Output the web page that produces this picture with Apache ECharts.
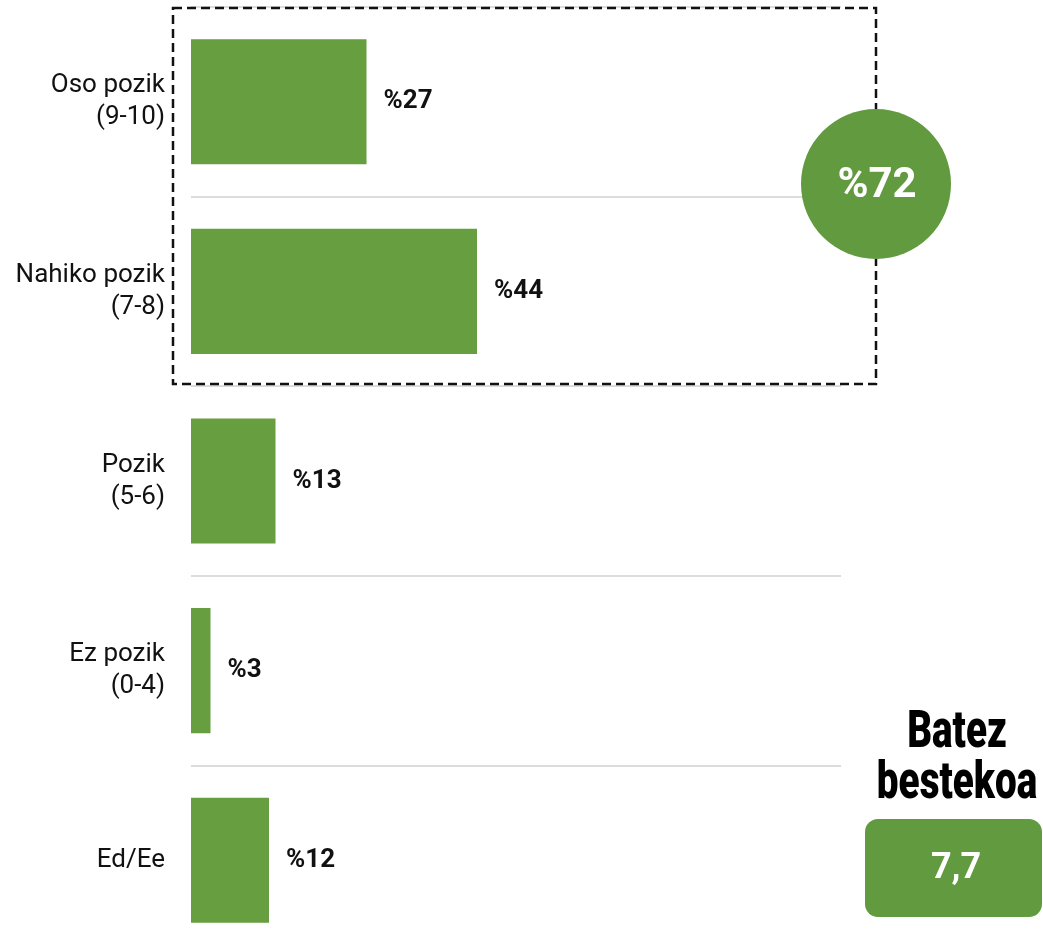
<!DOCTYPE html>
<html>
<head>
<meta charset="utf-8">
<script src="https://cdn.jsdelivr.net/npm/echarts@6/dist/echarts.min.js"></script>
<style>
  html, body { margin: 0; padding: 0; background: #fff; }
  #chart { width: 1043px; height: 950px; }
</style>
</head>
<body>
<div id="chart"></div>
<script>
// categories, top to bottom
const categories = ["Oso pozik\n(9-10)", "Nahiko pozik\n(7-8)", "Pozik\n(5-6)", "Ez pozik\n(0-4)", "Ed/Ee"];
const values = [27, 44, 13, 3, 12];
const groupTotal = "%72";      // Oso + Nahiko pozik
const averageTitle = "Batez\nbestekoa";
const averageValue = "7,7";

const green = "#669e40";
const greenDark = "#629a3f";

const chart = echarts.init(document.getElementById("chart"));

const option = {
  animation: false,
  textStyle: { fontFamily: "Roboto" },
  // bottom band runs past the canvas, so no split line is seen there
  grid: { left: 191, top: 7, width: 650, height: 948, outerBoundsMode: "none" },
  xAxis: {
    type: "value",
    min: 0,
    max: 100,
    show: false
  },
  yAxis: {
    type: "category",
    inverse: true,
    data: categories,
    axisLine: { show: false },
    axisTick: { show: false },
    splitLine: { show: true, lineStyle: { color: "#dcdcdc", width: 2 } },
    axisLabel: {
      margin: 26,
      color: "#111",
      fontSize: 26,
      lineHeight: 32,
      align: "right"
    }
  },
  series: [{
    type: "bar",
    data: values,
    barCategoryGap: "34%",
    itemStyle: { color: green },
    label: {
      show: true,
      position: "right",
      distance: 17,
      color: "#111",
      fontWeight: "bold",
      fontSize: 26,
      formatter: p => "%" + p.value
    }
  }],
  graphic: [
    {
      type: "rect",
      z: 10,
      shape: { x: 173, y: 8, width: 703, height: 376 },
      style: { fill: "none", stroke: "#111", lineWidth: 2.5, lineDash: [9, 5] }
    },
    {
      type: "circle",
      z: 11,
      shape: { cx: 876, cy: 184, r: 75 },
      style: { fill: greenDark }
    },
    {
      type: "text",
      z: 12,
      x: 877, y: 186,
      style: {
        text: groupTotal, fill: "#fff", font: "bold 42px Roboto",
        align: "center", verticalAlign: "middle"
      }
    },
    {
      // condensed heading: Roboto squeezed horizontally
      type: "text",
      z: 12,
      x: 957, y: 708,
      scaleX: 0.84,
      scaleY: 1.12,
      style: {
        text: averageTitle, fill: "#000",
        font: "900 46px Roboto",
        lineHeight: 46, align: "center", verticalAlign: "top"
      }
    },
    {
      type: "rect",
      z: 11,
      shape: { x: 865, y: 819, width: 177, height: 98, r: 13 },
      style: { fill: greenDark }
    },
    {
      type: "text",
      z: 12,
      x: 956, y: 869,
      style: {
        text: averageValue, fill: "#fff", font: "bold 36px Roboto",
        align: "center", verticalAlign: "middle"
      }
    }
  ]
};

chart.setOption(option);
</script>
</body>
</html>
